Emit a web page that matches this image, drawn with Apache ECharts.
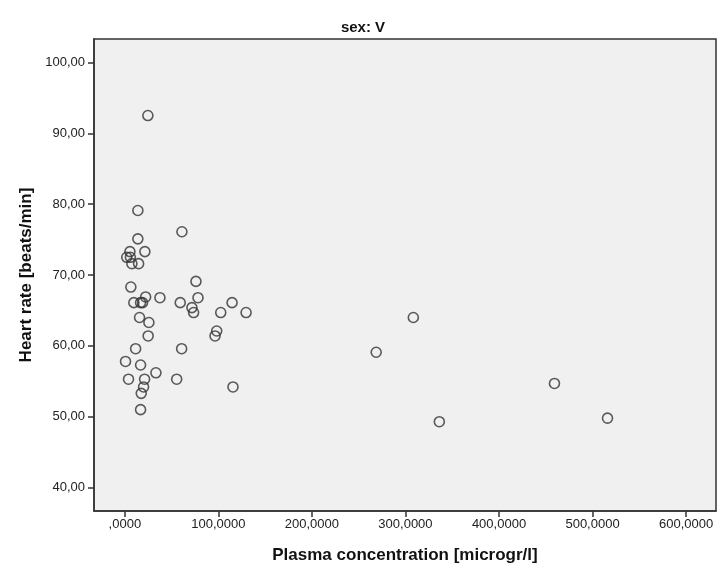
<!DOCTYPE html>
<html>
<head>
<meta charset="utf-8">
<script src="https://cdn.jsdelivr.net/npm/echarts@6/dist/echarts.min.js"></script>
<style>
html,body{margin:0;padding:0;background:#fff;}
#chart{width:726px;height:581px;}
</style>
</head>
<body>
<div id="chart"></div>
<script>
// Plasma concentration (microgr/l)
var plasmaConc = [24.6, 13.9, 13.9, 61.0, 5.4, 21.4, 2.0, 5.9, 7.5, 14.7,
  76.0, 6.4, 22.2, 37.5, 78.2, 9.6, 16.8, 18.9, 59.2, 114.6,
  71.7, 73.5, 102.5, 129.6, 15.7, 25.7, 98.2, 96.4, 24.9, 11.5,
  60.7, 0.7, 16.8, 33.2, 3.9, 21.1, 55.4, 20.0, 115.6, 17.5,
  16.8, 268.7, 308.4, 336.2, 459.3, 516.0];
// Heart rate (beats/min)
var heartRate = [92.5, 79.1, 75.1, 76.1, 73.3, 73.3, 72.5, 72.5, 71.6, 71.6,
  69.1, 68.3, 66.9, 66.8, 66.8, 66.1, 66.1, 66.1, 66.1, 66.1,
  65.4, 64.7, 64.7, 64.7, 64.0, 63.3, 62.1, 61.4, 61.4, 59.6,
  59.6, 57.8, 57.3, 56.2, 55.3, 55.3, 55.3, 54.2, 54.2, 53.3,
  51.0, 59.1, 64.0, 49.3, 54.7, 49.8];
var xTicks = [0, 100, 200, 300, 400, 500, 600];
var xTickLabels = [',0000', '100,0000', '200,0000', '300,0000', '400,0000', '500,0000', '600,0000'];
var yTicks = [40, 50, 60, 70, 80, 90, 100];
var yTickLabels = ['40,00', '50,00', '60,00', '70,00', '80,00', '90,00', '100,00'];

var points = plasmaConc.map(function (x, i) { return [x, heartRate[i]]; });
var narrow = "'Liberation Sans Narrow', 'Arial Narrow', 'Liberation Sans', sans-serif";
var chart = echarts.init(document.getElementById('chart'), null, {renderer: 'canvas'});
chart.setOption({
  animation: false,
  backgroundColor: '#ffffff',
  title: {
    text: 'sex: V',
    left: 'center',
    top: 15,
    textStyle: {fontFamily: narrow, fontSize: 15, fontWeight: 'bold', color: '#111'}
  },
  grid: {
    left: 94, top: 39, right: 10, bottom: 70,
    show: true, backgroundColor: '#f0f0f0', borderColor: '#333', borderWidth: 1.5
  },
  xAxis: {
    type: 'value', min: -33, max: 632,
    name: 'Plasma concentration [microgr/l]',
    nameLocation: 'middle', nameGap: 36,
    nameTextStyle: {fontFamily: narrow, fontSize: 17, fontWeight: 'bold', color: '#111'},
    splitLine: {show: false},
    axisLine: {show: true, onZero: false, lineStyle: {color: '#333', width: 1.5}},
    axisTick: {show: true, length: 6, customValues: xTicks, lineStyle: {color: '#333', width: 1.5}},
    axisLabel: {
      customValues: xTicks, margin: 7,
      fontFamily: narrow, fontSize: 13, color: '#222',
      formatter: function (v) { return xTickLabels[xTicks.indexOf(v)]; }
    }
  },
  yAxis: {
    type: 'value', min: 36.7, max: 103.3,
    name: 'Heart rate [beats/min]',
    nameLocation: 'middle', nameGap: 49,
    nameTextStyle: {fontFamily: narrow, fontSize: 17, fontWeight: 'bold', color: '#111'},
    splitLine: {show: false},
    axisLine: {show: true, onZero: false, lineStyle: {color: '#333', width: 1.5}},
    axisTick: {show: true, length: 6, customValues: yTicks, lineStyle: {color: '#333', width: 1.5}},
    axisLabel: {
      customValues: yTicks, margin: 9,
      fontFamily: narrow, fontSize: 13, color: '#222',
      formatter: function (v) { return yTickLabels[yTicks.indexOf(v)]; }
    }
  },
  series: [{
    type: 'scatter',
    data: points,
    symbol: 'circle',
    symbolSize: 10,
    itemStyle: {color: 'rgba(0,0,0,0)', borderColor: '#333', borderWidth: 1.6}
  }]
});
</script>
</body>
</html>
